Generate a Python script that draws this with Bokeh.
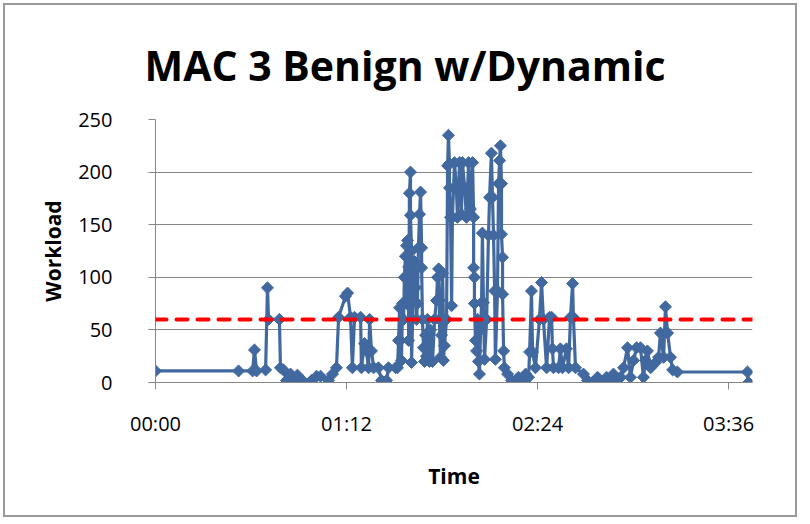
import math
from bokeh.plotting import figure
from bokeh.models import FixedTicker, Span
from bokeh.embed import file_html
from bokeh.resources import INLINE

# ---- data (time in minutes since 00:00, workload) ----
time_min = [
    0.0, 31.3, 36.6, 37.3, 38.1, 41.5, 42.2, 42.6, 46.7, 47.1,
    48.2, 49.4, 50.9, 52.0, 53.5, 55.4, 58.8, 60.7, 62.2, 65.2,
    66.7, 68.2, 69.0, 71.6, 72.4, 73.5, 74.2, 75.0, 77.3, 77.6,
    78.8, 79.5, 80.3, 80.7, 81.4, 82.2, 84.0, 85.2, 87.1, 87.8,
    90.5, 91.2, 91.6, 92.0, 92.3, 92.7, 93.1, 93.5, 93.8, 94.2,
    94.6, 94.6, 95.0, 95.4, 95.4, 95.7, 96.1, 96.1, 96.5, 96.5,
    96.9, 97.2, 97.6, 98.0, 98.4, 98.7, 99.1, 99.5, 99.9, 100.3,
    100.3, 100.6, 101.0, 101.4, 101.8, 102.1, 102.5, 102.9, 103.3, 103.6,
    104.4, 105.2, 105.9, 106.3, 106.7, 107.0, 107.0, 107.4, 107.8, 108.2,
    108.5, 108.5, 108.9, 109.7, 110.1, 110.4, 110.8, 110.8, 111.2, 111.6,
    111.9, 112.7, 113.4, 113.8, 114.6, 115.3, 115.7, 116.5, 117.2, 118.0,
    118.7, 119.5, 119.9, 119.9, 120.2, 120.2, 120.6, 121.0, 121.4, 121.7,
    122.1, 122.5, 122.9, 123.2, 123.6, 124.0, 124.8, 125.5, 125.9, 126.6,
    127.0, 127.4, 127.8, 128.1, 128.9, 129.3, 129.7, 130.0, 130.4, 130.4,
    130.8, 130.8, 131.2, 131.5, 132.7, 134.2, 135.7, 136.8, 138.3, 139.5,
    140.6, 141.0, 141.7, 142.1, 143.2, 144.7, 145.5, 146.2, 147.4, 148.5,
    149.3, 149.6, 150.0, 151.9, 152.6, 153.4, 154.9, 155.7, 156.4, 157.2,
    157.5, 158.3, 161.3, 162.8, 164.7, 166.6, 168.5, 170.0, 171.5, 172.6,
    174.1, 175.3, 176.4, 177.9, 179.0, 180.2, 181.3, 182.8, 183.9, 184.7,
    185.4, 186.6, 188.5, 189.6, 190.3, 191.5, 192.2, 193.0, 194.1, 194.9,
    196.7, 223.1, 223.5,
]
workload = [
    11, 11, 11, 31, 11, 12, 90, 60, 60, 14,
    12, 2, 8, 3, 7, 2, 2, 6, 6, 2,
    8, 14, 62, 82, 85, 62, 14, 62, 62, 14,
    37, 30, 14, 60, 30, 14, 14, 2, 2, 14,
    14, 14, 40, 71, 40, 21, 75, 60, 100, 120,
    130, 75, 135, 110, 40, 180, 200, 159, 125, 19,
    60, 100, 115, 90, 60, 75, 128, 160, 181, 128,
    109, 60, 33, 20, 45, 25, 60, 35, 20, 50,
    20, 60, 78, 100, 108, 78, 60, 24, 45, 104,
    60, 21, 35, 60, 206, 235, 208, 185, 157, 73,
    157, 209, 185, 157, 209, 160, 209, 185, 157, 209,
    165, 209, 157, 109, 100, 75, 40, 30, 60, 20,
    8, 50, 76, 142, 76, 22, 60, 140, 176, 218,
    176, 140, 87, 22, 87, 189, 211, 225, 189, 141,
    119, 84, 30, 14, 8, 2, 0, 5, 2, 8,
    5, 29, 87, 29, 14, 60, 95, 60, 14, 62,
    62, 32, 14, 14, 32, 14, 32, 14, 62, 94,
    62, 14, 8, 2, 0, 5, 0, 5, 2, 8,
    2, 5, 14, 33, 5, 21, 33, 33, 5, 21,
    30, 14, 19, 24, 47, 24, 72, 47, 24, 12,
    10, 10, 0,
]
threshold = 60

x_ticks = [0, 72, 144, 216]
x_tick_labels = ["00:00", "01:12", "02:24", "03:36"]
y_ticks = [0, 50, 100, 150, 200, 250]

BLUE = "#41699F"
GRAY = "#868686"
FONT = "Open Sans"

p = figure(
    width=794, height=514,
    x_range=(0, 225), y_range=(0, 250),
    output_backend="svg", toolbar_location=None,
    min_border_left=150, min_border_right=47,
    min_border_top=114, min_border_bottom=137,
)
p.styles = {"border": "2px solid #9a9a9a", "margin-left": "3px", "margin-top": "3px"}
p.background_fill_color = "white"
p.border_fill_color = "white"
p.outline_line_color = None

# title
p.title.text = "MAC  3 Benign w/Dynamic"
p.title.text_font = FONT
p.title.text_font_size = "41px"
p.title.text_font_style = "bold"
p.title.text_color = "black"
p.title.align = "left"
p.title.offset = -11
p.title.standoff = 54

# axes
p.xaxis.ticker = FixedTicker(ticks=x_ticks)
p.xaxis.major_label_overrides = {t: l for t, l in zip(x_ticks, x_tick_labels)}
p.yaxis.ticker = FixedTicker(ticks=y_ticks)
for ax in (p.xaxis[0], p.yaxis[0]):
    ax.axis_line_color = GRAY
    ax.axis_line_width = 1
    ax.major_tick_line_color = GRAY
    ax.major_tick_out = 7
    ax.major_tick_in = 0
    ax.minor_tick_line_color = None
    ax.major_label_text_font = FONT
    ax.major_label_text_font_size = "20px"
    ax.major_label_text_color = "black"
    ax.axis_label_text_font = FONT
    ax.axis_label_text_font_size = "21px"
    ax.axis_label_text_font_style = "bold"
    ax.axis_label_text_color = "black"
p.xaxis.axis_label = "Time"
p.yaxis.axis_label = "Workload"
p.xaxis.major_label_standoff = 20
p.xaxis.axis_label_standoff = 22
p.yaxis.major_label_standoff = 36
p.yaxis.axis_label_standoff = 8

p.xgrid.grid_line_color = None
p.ygrid.grid_line_color = GRAY
p.ygrid.grid_line_width = 1

# series
p.line(time_min, workload, line_color=BLUE, line_width=3.2, line_join="round")
p.scatter(time_min, workload, marker="square", angle=math.pi / 4, size=8.5,
          fill_color=BLUE, line_color=BLUE)

p.add_layout(Span(location=threshold, dimension="width", line_color="#FF0000",
                  line_width=4, line_dash="11 10", line_cap="round"))

open("out.html", "w").write(file_html(p, INLINE))
